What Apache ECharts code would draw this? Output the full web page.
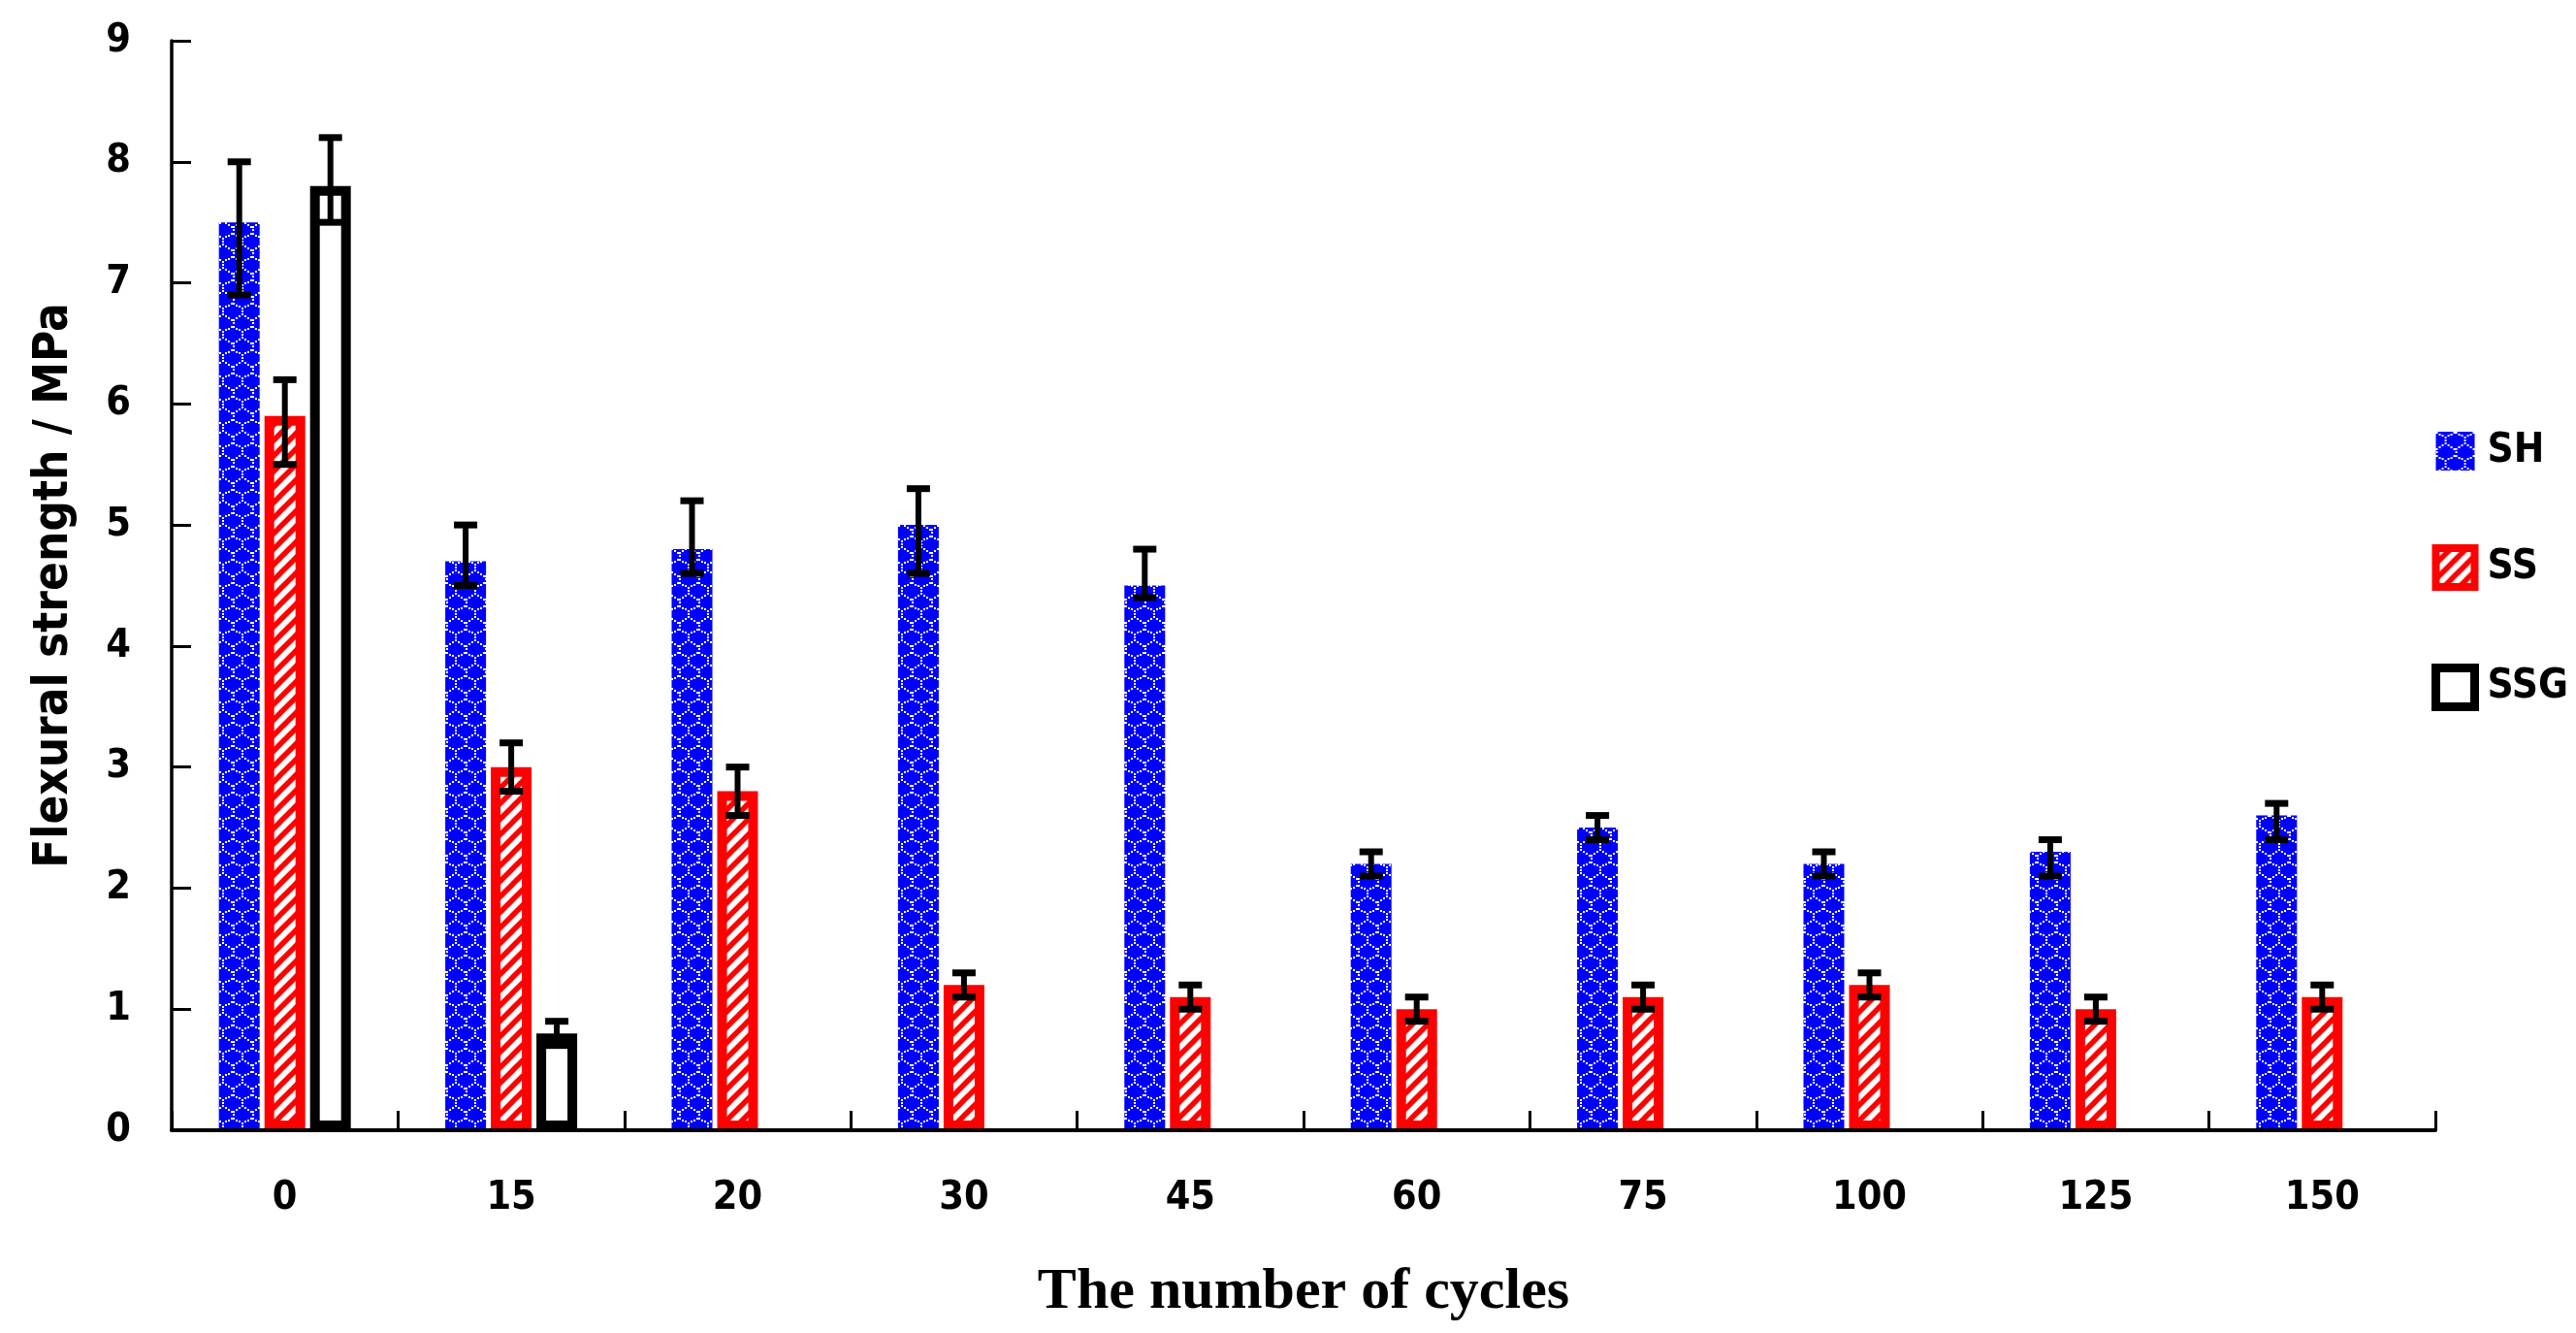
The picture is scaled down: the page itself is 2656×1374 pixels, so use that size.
<!DOCTYPE html>
<html>
<head>
<meta charset="utf-8">
<script src="https://cdn.jsdelivr.net/npm/echarts@6/dist/echarts.min.js"></script>
<style>
html,body{margin:0;padding:0;background:#fff;}
#chart{width:2656px;height:1374px;}
</style>
</head>
<body>
<div id="chart"></div>
<script>
// ---- data ----
const categories = ['0', '15', '20', '30', '45', '60', '75', '100', '125', '150'];
const seriesNames = ['SH', 'SS', 'SSG'];
const shValues = [7.5, 4.7, 4.8, 5.0, 4.5, 2.2, 2.5, 2.2, 2.3, 2.6];
const shHigh   = [8.0, 5.0, 5.2, 5.3, 4.8, 2.3, 2.6, 2.3, 2.4, 2.7];
const shLow    = [6.9, 4.5, 4.6, 4.6, 4.4, 2.1, 2.4, 2.1, 2.1, 2.4];
const ssValues = [5.9, 3.0, 2.8, 1.2, 1.1, 1.0, 1.1, 1.2, 1.0, 1.1];
const ssHigh   = [6.2, 3.2, 3.0, 1.3, 1.2, 1.1, 1.2, 1.3, 1.1, 1.2];
const ssLow    = [5.5, 2.8, 2.6, 1.1, 1.0, 0.9, 1.0, 1.1, 0.9, 1.0];
const ssgValues = [7.8, 0.8, null, null, null, null, null, null, null, null];
const ssgHigh   = [8.2, 0.9, null, null, null, null, null, null, null, null];
const ssgLow    = [7.5, 0.7, null, null, null, null, null, null, null, null];
const yTicks = [0, 1, 2, 3, 4, 5, 6, 7, 8, 9];

// ---- patterns ----
function dotLine(g, x1, y1, x2, y2, step) {
  const len = Math.hypot(x2 - x1, y2 - y1);
  const n = Math.max(1, Math.round(len / step));
  for (let k = 0; k <= n; k++) {
    const t = k / n;
    g.fillRect(Math.round(x1 + (x2 - x1) * t) - 1, Math.round(y1 + (y2 - y1) * t) - 1, 2, 2);
  }
}
function bluePattern() {
  const w = 20, h = 24;
  const c = document.createElement('canvas');
  c.width = w; c.height = h;
  const g = c.getContext('2d');
  g.fillStyle = '#0000FF';
  g.fillRect(0, 0, w, h);
  g.fillStyle = '#FFFFFF';
  dotLine(g, 1, 1, 10, 6, 4);
  dotLine(g, 19, 1, 10, 6, 4);
  dotLine(g, 10, 9, 10, 12, 4);
  dotLine(g, 10, 12, 19, 18, 4);
  dotLine(g, 10, 12, 1, 18, 4);
  dotLine(g, 1, 21, 1, 21, 4);
  return c;
}
function redPattern() {
  const s = 16;
  const c = document.createElement('canvas');
  c.width = s; c.height = s;
  const g = c.getContext('2d');
  g.fillStyle = '#FFFFFF';
  g.fillRect(0, 0, s, s);
  g.strokeStyle = '#FF0000';
  g.lineWidth = 5.5;
  for (let k = -1; k <= 1; k++) {
    g.beginPath();
    g.moveTo(k * s - 2, s + 2);
    g.lineTo(k * s + s + 2, -2);
    g.stroke();
  }
  return c;
}
const blueFill = { image: bluePattern(), repeat: 'repeat' };
const redFill = { image: redPattern(), repeat: 'repeat' };

const BAR_W = 42;
const BAR_GAP = 5;             // px between bar slots
const SLOT = BAR_W + BAR_GAP;
const FONT_SANS = '"DejaVu Sans Condensed", "DejaVu Sans", sans-serif';
const FONT_SERIF = '"Liberation Serif", "DejaVu Serif", serif';

function errSeries(name, idx, low, high) {
  const off = (idx - 1) * SLOT;
  const data = [];
  categories.forEach((c, i) => {
    if (low[i] != null && high[i] != null) data.push([i, low[i], high[i]]);
  });
  return {
    type: 'custom',
    name: name + '_err',
    z: 10,
    silent: true,
    data: data,
    encode: { x: 0, y: [1, 2] },
    renderItem: function (params, api) {
      const i = api.value(0);
      const x = api.coord([i, 0])[0] + off;
      const yl = api.coord([i, api.value(1)])[1];
      const yh = api.coord([i, api.value(2)])[1];
      const cap = 12;
      const st = { stroke: '#000', lineWidth: 7 };
      return {
        type: 'group',
        children: [
          { type: 'line', shape: { x1: x, y1: yl, x2: x, y2: yh }, style: { stroke: '#000', lineWidth: 6 } },
          { type: 'line', shape: { x1: x - cap, y1: yh, x2: x + cap, y2: yh }, style: st },
          { type: 'line', shape: { x1: x - cap, y1: yl, x2: x + cap, y2: yl }, style: st }
        ]
      };
    }
  };
}

const chart = echarts.init(document.getElementById('chart'));
chart.setOption({
  animation: false,
  backgroundColor: '#fff',
  grid: { left: 177, right: 145, top: 42, bottom: 209, containLabel: false },
  legend: {
    orient: 'vertical',
    left: 2502,
    top: 439,
    itemWidth: 40,
    itemHeight: 40,
    itemGap: 75,
    icon: 'rect',
    data: [
      { name: 'SH', itemStyle: { color: blueFill, borderWidth: 0 } },
      { name: 'SS', itemStyle: { color: redFill, borderColor: '#FF0000', borderWidth: 8 } },
      { name: 'SSG', itemStyle: { color: '#FFFFFF', borderColor: '#000', borderWidth: 9 } }
    ],
    textStyle: { fontFamily: FONT_SANS, fontWeight: 'bold', fontSize: 42, lineHeight: 40, color: '#000', padding: [0, 0, 0, 8] }
  },
  xAxis: {
    type: 'category',
    data: categories,
    z: 5,
    name: 'The number of cycles',
    nameLocation: 'middle',
    nameGap: 137,
    nameTextStyle: { fontFamily: FONT_SERIF, fontWeight: 'bold', fontSize: 60, color: '#000' },
    axisLine: { show: true, lineStyle: { color: '#000', width: 4 } },
    axisTick: { show: true, inside: true, length: 20, lineStyle: { color: '#000', width: 3 } },
    axisLabel: { fontFamily: FONT_SANS, fontWeight: 'bold', fontSize: 41, color: '#000', margin: 50 },
    splitLine: { show: false }
  },
  yAxis: {
    type: 'value',
    min: yTicks[0],
    max: yTicks[yTicks.length - 1],
    interval: 1,
    z: 5,
    name: 'Flexural strength / MPa',
    nameLocation: 'middle',
    nameGap: 96,
    nameTextStyle: { fontFamily: FONT_SANS, fontWeight: 'bold', fontSize: 49, color: '#000' },
    axisLine: { show: true, lineStyle: { color: '#000', width: 3.5 } },
    axisTick: { show: true, inside: true, length: 20, lineStyle: { color: '#000', width: 3 } },
    axisLabel: { fontFamily: FONT_SANS, fontWeight: 'bold', fontSize: 41, color: '#000', margin: 42 },
    splitLine: { show: false }
  },
  series: [
    {
      type: 'bar', name: 'SH', data: shValues, barWidth: BAR_W, barGap: (BAR_GAP / BAR_W * 100) + '%',
      itemStyle: { color: blueFill, borderWidth: 0 }
    },
    {
      type: 'bar', name: 'SS', data: ssValues, barWidth: BAR_W, barGap: (BAR_GAP / BAR_W * 100) + '%',
      itemStyle: { color: redFill, borderColor: '#FF0000', borderWidth: 10 }
    },
    {
      type: 'bar', name: 'SSG', data: ssgValues, barWidth: BAR_W, barGap: (BAR_GAP / BAR_W * 100) + '%',
      itemStyle: { color: '#FFFFFF', borderColor: '#000000', borderWidth: 10 }
    },
    errSeries('SH', 0, shLow, shHigh),
    errSeries('SS', 1, ssLow, ssHigh),
    errSeries('SSG', 2, ssgLow, ssgHigh)
  ]
});
</script>
</body>
</html>
